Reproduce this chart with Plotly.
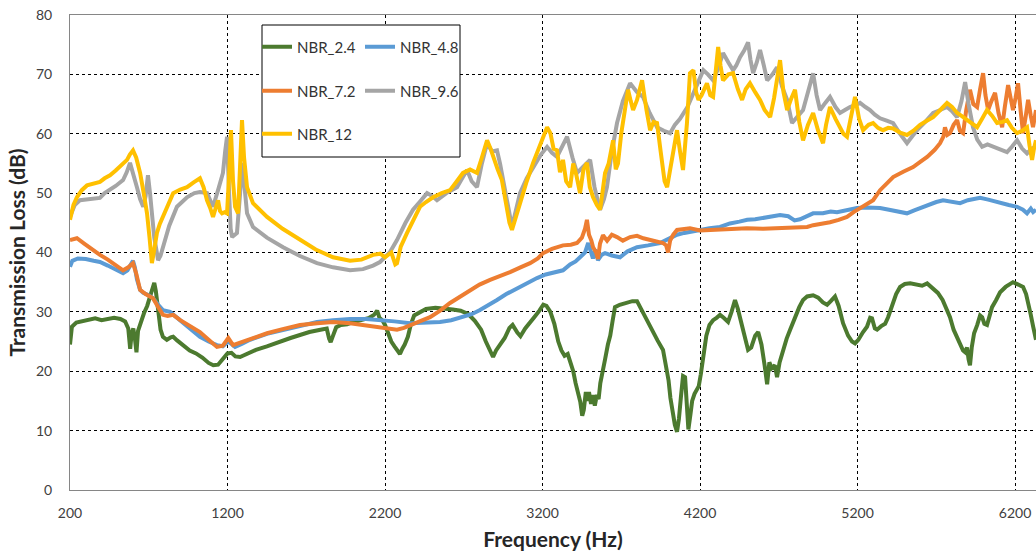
import plotly.graph_objects as go

# ---- NBR_2.4 ----
f_24 = [200, 212, 240, 280, 320, 360, 400, 440, 480, 520, 550, 570, 582, 592, 602, 612, 622, 632, 650, 670,
        690, 710, 725, 735, 745, 760, 775, 790, 815, 840, 855, 880, 920, 960, 1000, 1040, 1080, 1110, 1140, 1170,
        1200, 1225, 1250, 1280, 1320, 1380, 1450, 1520, 1600, 1660, 1720, 1790, 1830, 1845, 1855, 1870, 1890, 1920,
        1960, 2000, 2050, 2100, 2130, 2150, 2165, 2185, 2200, 2220, 2240, 2260, 2280, 2295, 2310, 2325, 2345, 2365,
        2385, 2420, 2460, 2520, 2580, 2630, 2680, 2730, 2770, 2810, 2840, 2865, 2886, 2905, 2930, 2960, 2990, 3010,
        3040, 3060, 3090, 3120, 3150, 3180, 3205, 3225, 3250, 3275, 3300, 3320, 3340, 3360, 3380, 3395, 3410, 3425,
        3440, 3452, 3462, 3475, 3485, 3495, 3508, 3520, 3532, 3545, 3556, 3567, 3582, 3597, 3615, 3630, 3645, 3660,
        3690, 3730, 3770, 3800, 3825, 3851, 3880, 3902, 3930, 3965, 3985, 4000, 4012, 4025, 4040, 4054, 4066, 4078,
        4092, 4105, 4115, 4126, 4138, 4150, 4165, 4180, 4192, 4205, 4220, 4240, 4260, 4283, 4305, 4327, 4350, 4378,
        4400, 4422, 4440, 4467, 4490, 4505, 4525, 4550, 4569, 4590, 4610, 4626, 4640, 4655, 4675, 4689, 4705, 4727,
        4750, 4772, 4800, 4830, 4854, 4880, 4918, 4950, 4980, 5007, 5030, 5057, 5080, 5108, 5140, 5165, 5184, 5205,
        5235, 5260, 5280, 5292, 5310, 5324, 5350, 5375, 5394, 5420, 5445, 5470, 5500, 5534, 5570, 5610, 5642, 5680,
        5710, 5740, 5765, 5787, 5810, 5830, 5851, 5870, 5883, 5895, 5905, 5914, 5925, 5940, 5960, 5978, 5991, 6005,
        6022, 6038, 6054, 6080, 6105, 6140, 6170, 6187, 6220, 6251, 6270, 6285, 6300, 6315, 6333]
tl_24 = [24.5, 27.5, 28.2, 28.4, 28.6, 28.9, 28.6, 28.8, 29.0, 28.8, 28.4, 27.2, 23.8, 26.5, 27.2, 25.5, 23.2, 26.8, 28.4, 29.8,
         31.0, 33.0, 34.2, 34.9, 33.5, 29.5, 27.0, 25.8, 25.3, 25.7, 25.8, 25.2, 24.3, 23.5, 23.0, 22.3, 21.4, 21.0, 21.1, 22.0,
         23.0, 23.1, 22.5, 22.4, 22.9, 23.6, 24.2, 24.9, 25.6, 26.1, 26.6, 27.0, 27.2, 25.5, 24.9, 26.0, 27.4, 27.8,
         27.9, 28.3, 28.6, 29.0, 29.5, 30.2, 29.0, 28.5, 27.8, 26.5, 25.0, 24.2, 23.5, 22.9, 23.8, 24.5, 25.8, 28.0,
         29.4, 30.0, 30.5, 30.7, 30.6, 30.4, 30.2, 29.6, 28.5, 27.0, 25.0, 23.5, 22.4, 23.5, 24.5, 25.6, 27.3, 27.8,
         26.5, 25.9, 27.2, 28.3, 29.2, 30.2, 31.2, 31.0, 30.0, 28.0, 25.0, 23.5, 22.6, 22.9, 21.5, 20.0, 18.0, 16.5,
         14.8, 12.5, 13.5, 16.5, 15.0, 16.5, 14.5, 16.0, 14.2, 16.0, 15.3, 18.0, 20.5, 22.0, 24.5, 26.0, 28.5, 30.8,
         31.2, 31.5, 31.8, 31.8, 30.5, 29.1, 27.5, 26.4, 25.2, 23.6, 21.0, 18.5, 15.5, 13.0, 11.0, 9.8, 12.0, 15.5,
         19.2, 19.0, 14.0, 10.2, 12.5, 15.0, 16.2, 17.0, 17.5, 19.5, 22.5, 26.0, 27.8, 28.6, 29.0, 29.5, 29.0, 28.3,
         30.0, 32.0, 30.5, 27.5, 25.0, 23.6, 24.0, 26.0, 26.6, 24.5, 21.0, 17.8, 21.5, 20.5, 21.0, 19.0, 21.5, 23.6,
         25.5, 27.0, 29.0, 30.8, 32.0, 32.6, 32.8, 32.4, 31.6, 31.2, 31.8, 32.6, 31.0, 28.1, 26.0, 25.0, 24.7, 25.3,
         26.6, 27.5, 29.0, 28.9, 27.2, 27.0, 27.6, 28.0, 29.1, 31.0, 33.0, 34.2, 34.7, 34.8, 34.6, 34.4, 34.8, 34.0,
         33.2, 32.0, 30.5, 29.1, 27.0, 25.8, 24.7, 23.5, 23.2, 24.0, 22.0, 21.0, 24.0, 26.4, 27.8, 29.4, 29.1, 28.0,
         27.8, 29.5, 30.8, 32.0, 33.3, 34.2, 34.8, 35.0, 34.6, 34.2, 33.0, 31.5, 29.5, 27.5, 25.3]

# ---- NBR_4.8 ----
f_48 = [200, 215, 250, 300, 350, 390, 440, 490, 537, 565, 585, 600, 612, 625, 645, 665, 700, 727, 760, 790,
        835, 870, 917, 970, 1025, 1080, 1133, 1170, 1205, 1225, 1248, 1290, 1343, 1450, 1553, 1660, 1768, 1870, 1978, 2080,
        2187, 2260, 2359, 2450, 2549, 2620, 2695, 2750, 2803, 2860, 2911, 2970, 3038, 3100, 3165, 3220, 3270, 3330, 3375, 3410,
        3438, 3470, 3490, 3502, 3520, 3535, 3552, 3575, 3597, 3640, 3692, 3740, 3800, 3870, 3946, 4000, 4054, 4100, 4150, 4200,
        4260, 4327, 4390, 4450, 4500, 4550, 4600, 4650, 4708, 4760, 4800, 4835, 4880, 4918, 4980, 5030, 5070, 5130, 5197, 5260,
        5343, 5400, 5460, 5514, 5560, 5597, 5650, 5700, 5743, 5800, 5851, 5900, 5950, 5978, 6030, 6105, 6160, 6213, 6250, 6276,
        6300, 6315, 6333]
tl_48 = [37.6, 38.6, 39.0, 38.9, 38.6, 38.4, 37.8, 37.2, 36.5, 37.0, 37.8, 38.6, 37.5, 35.5, 33.7, 33.2, 32.8, 32.3, 31.2, 30.3,
         30.0, 29.2, 28.3, 27.0, 25.8, 25.0, 24.4, 24.2, 25.0, 24.6, 24.1, 24.6, 25.3, 26.3, 27.0, 27.7, 28.3, 28.6, 28.8, 28.8,
         28.6, 28.4, 28.1, 28.2, 28.3, 28.6, 29.1, 29.6, 30.3, 31.1, 32.0, 33.0, 34.0, 34.9, 35.7, 36.3, 36.6, 37.0, 38.0, 38.5,
         39.2, 40.0, 41.6, 40.5, 39.0, 40.5, 38.7, 39.6, 39.9, 39.5, 39.2, 40.2, 40.9, 41.2, 41.6, 42.3, 43.0, 43.3, 43.6, 43.8,
         44.1, 44.3, 44.9, 45.2, 45.5, 45.6, 45.8, 46.0, 46.3, 46.1, 45.4, 45.6, 46.2, 46.6, 46.6, 46.9, 46.8, 47.2, 47.5, 47.6,
         47.5, 47.2, 46.9, 46.6, 47.1, 47.5, 48.0, 48.5, 48.8, 48.5, 48.3, 48.8, 49.0, 49.2, 48.9, 48.3, 48.0, 47.7, 47.2, 46.6,
         47.4, 46.8, 47.2]

# ---- NBR_7.2 ----
f_72 = [200, 244, 290, 340, 390, 440, 490, 537, 570, 600, 620, 645, 680, 727, 760, 790, 820, 855, 900, 960,
        1025, 1080, 1133, 1170, 1205, 1235, 1300, 1370, 1451, 1550, 1660, 1770, 1870, 1978, 2060, 2150, 2230, 2276, 2320, 2359,
        2420, 2486, 2550, 2613, 2680, 2740, 2800, 2867, 2930, 2994, 3060, 3121, 3170, 3203, 3260, 3330, 3380, 3419, 3450, 3470,
        3482, 3495, 3510, 3521, 3540, 3552, 3565, 3584, 3610, 3640, 3673, 3710, 3756, 3800, 3840, 3883, 3930, 3965, 3985, 3997,
        4010, 4030, 4054, 4100, 4136, 4200, 4260, 4330, 4400, 4498, 4600, 4708, 4780, 4835, 4880, 4918, 4970, 5025, 5080, 5133,
        5175, 5216, 5260, 5299, 5343, 5385, 5426, 5490, 5553, 5600, 5642, 5690, 5724, 5745, 5755, 5770, 5787, 5810, 5832, 5850,
        5870, 5890, 5914, 5935, 5959, 5978, 5997, 6012, 6029, 6050, 6073, 6095, 6118, 6135, 6156, 6172, 6187, 6203, 6219, 6235,
        6251, 6268, 6283, 6300, 6314, 6333]
tl_72 = [42.1, 42.4, 41.5, 40.5, 39.6, 38.8, 37.8, 37.0, 37.5, 38.2, 36.5, 33.7, 33.0, 32.3, 30.8, 29.5, 29.3, 29.5, 28.6, 27.6,
         26.6, 25.3, 24.1, 24.3, 25.6, 24.4, 25.0, 25.7, 26.4, 27.1, 27.8, 28.1, 28.3, 28.1, 27.8, 27.4, 27.1, 27.0, 27.3, 27.8,
         28.4, 29.1, 30.2, 31.5, 32.6, 33.7, 34.6, 35.4, 36.0, 36.7, 37.5, 38.2, 39.0, 39.9, 40.6, 41.2, 41.3, 41.6, 42.5, 44.0,
         45.5, 43.0, 42.0, 40.9, 40.0, 38.9, 41.5, 42.9, 42.0, 43.0, 42.6, 42.0, 42.6, 42.8, 42.4, 42.1, 41.9, 41.6, 41.2, 40.0,
         42.0, 43.0, 43.8, 44.0, 44.1, 43.7, 43.8, 43.9, 44.0, 44.1, 44.0, 44.1, 44.2, 44.1, 44.3, 44.6, 44.8, 45.1, 45.5, 46.0,
         46.8, 47.5, 48.1, 48.8, 50.5, 51.6, 52.7, 53.6, 54.4, 55.3, 56.1, 57.3, 58.4, 59.5, 61.1, 59.8, 60.1, 61.5, 62.3, 60.5,
         60.1, 64.0, 67.4, 65.0, 64.5, 67.5, 70.2, 66.5, 64.0, 65.5, 66.9, 63.5, 61.1, 64.5, 68.2, 66.0, 64.0, 66.0, 68.5, 64.0,
         60.1, 63.0, 65.7, 63.0, 61.1, 64.0]

# ---- NBR_9.6 ----
f_96 = [200, 230, 263, 320, 390, 420, 454, 490, 537, 560, 581, 600, 625, 645, 665, 680, 695, 708, 720, 735,
        752, 759, 775, 790, 830, 879, 943, 990, 1025, 1070, 1108, 1140, 1171, 1185, 1197, 1210, 1220, 1229, 1260, 1280,
        1292, 1310, 1324, 1362, 1450, 1553, 1660, 1768, 1870, 1978, 2060, 2124, 2168, 2230, 2276, 2330, 2378, 2420, 2467, 2500,
        2530, 2590, 2657, 2690, 2721, 2750, 2784, 2815, 2848, 2880, 2911, 2930, 2949, 2975, 3006, 3030, 3057, 3100, 3140, 3190,
        3229, 3260, 3292, 3325, 3356, 3390, 3419, 3460, 3502, 3530, 3565, 3590, 3609, 3640, 3673, 3710, 3756, 3800, 3838, 3880,
        3927, 3970, 4010, 4040, 4073, 4120, 4158, 4190, 4221, 4250, 4283, 4315, 4346, 4380, 4410, 4430, 4454, 4480, 4505, 4520,
        4537, 4560, 4581, 4605, 4626, 4660, 4689, 4720, 4753, 4784, 4820, 4854, 4885, 4918, 4940, 4962, 4995, 5025, 5060, 5089,
        5120, 5152, 5185, 5216, 5250, 5279, 5310, 5343, 5385, 5426, 5470, 5514, 5545, 5578, 5630, 5680, 5725, 5768, 5800, 5832,
        5860, 5883, 5905, 5933, 5960, 5991, 6025, 6060, 6100, 6149, 6180, 6213, 6245, 6276, 6305, 6333]
tl_96 = [46.0, 48.0, 48.8, 49.0, 49.2, 50.0, 50.5, 51.2, 52.2, 53.5, 55.1, 53.5, 51.0, 49.0, 47.7, 49.5, 53.0, 50.0, 46.6, 42.5,
         39.9, 38.7, 39.5, 40.9, 44.5, 47.7, 49.3, 50.0, 50.2, 50.0, 47.7, 50.5, 53.4, 57.0, 59.5, 50.0, 44.0, 42.6, 43.3, 50.0,
         55.1, 50.5, 46.6, 44.3, 42.5, 40.9, 39.4, 38.2, 37.5, 37.0, 37.2, 37.8, 38.4, 40.0, 42.1, 45.0, 47.2, 48.5, 50.0, 49.5,
         48.8, 50.0, 51.0, 52.5, 53.9, 52.0, 51.0, 55.0, 58.4, 57.0, 57.2, 55.0, 52.2, 48.0, 44.3, 47.0, 50.0, 52.5, 54.4, 56.5,
         57.8, 56.8, 56.1, 58.0, 59.5, 56.0, 53.4, 54.5, 55.6, 51.0, 47.2, 49.0, 51.0, 57.0, 61.8, 65.5, 68.5, 67.0, 66.2, 63.5,
         61.1, 60.5, 60.1, 61.5, 62.5, 64.5, 66.9, 68.5, 70.7, 70.0, 69.0, 71.0, 73.6, 72.0, 70.7, 71.5, 72.9, 74.0, 75.4, 72.5,
         70.2, 72.0, 74.1, 71.5, 69.0, 70.0, 71.2, 68.0, 65.7, 61.8, 63.0, 64.0, 67.0, 70.2, 66.5, 64.0, 65.2, 66.2, 64.5, 63.5,
         64.0, 64.5, 64.8, 65.2, 64.5, 64.0, 63.2, 62.6, 62.2, 61.8, 60.0, 58.4, 59.5, 60.6, 62.0, 63.5, 64.0, 64.5, 63.8, 62.8,
         65.5, 68.7, 65.0, 61.1, 59.0, 57.8, 58.2, 57.8, 57.5, 56.9, 57.8, 58.9, 57.5, 56.7, 57.5, 57.8]

# ---- NBR_12 ----
f_12 = [200, 222, 244, 275, 308, 350, 390, 420, 454, 490, 517, 540, 562, 580, 600, 620, 645, 668, 689, 705,
        720, 735, 752, 770, 790, 820, 855, 900, 943, 985, 1025, 1048, 1070, 1090, 1108, 1125, 1140, 1152, 1165, 1182,
        1197, 1210, 1222, 1235, 1248, 1267, 1280, 1292, 1305, 1324, 1362, 1400, 1451, 1550, 1660, 1760, 1870, 1978, 2050, 2124,
        2170, 2200, 2240, 2265, 2276, 2300, 2340, 2380, 2422, 2460, 2505, 2560, 2613, 2650, 2695, 2740, 2784, 2815, 2848, 2870,
        2886, 2915, 2942, 2970, 2990, 3006, 3030, 3057, 3100, 3140, 3185, 3229, 3250, 3270, 3292, 3311, 3330, 3350, 3375, 3395,
        3415, 3438, 3460, 3482, 3500, 3521, 3545, 3565, 3580, 3597, 3620, 3648, 3665, 3679, 3700, 3720, 3743, 3760, 3775, 3800,
        3832, 3860, 3883, 3905, 3927, 3950, 3975, 3991, 4015, 4035, 4054, 4073, 4092, 4117, 4136, 4158, 4175, 4190, 4210, 4244,
        4265, 4283, 4300, 4315, 4330, 4346, 4380, 4410, 4440, 4467, 4490, 4517, 4550, 4581, 4610, 4645, 4670, 4690, 4708, 4730,
        4753, 4780, 4803, 4830, 4854, 4885, 4918, 4950, 4981, 5000, 5025, 5060, 5089, 5110, 5133, 5160, 5184, 5210, 5235, 5270,
        5299, 5330, 5362, 5395, 5426, 5470, 5514, 5555, 5597, 5640, 5680, 5725, 5768, 5800, 5832, 5860, 5895, 5930, 5959, 5990,
        6022, 6055, 6086, 6120, 6149, 6180, 6213, 6245, 6276, 6292, 6308, 6320, 6333]
tl_12 = [45.5, 48.0, 49.3, 50.5, 51.3, 51.6, 51.9, 52.5, 53.0, 53.8, 54.4, 55.0, 55.6, 56.5, 57.2, 56.0, 53.4, 50.0, 46.6, 42.5,
         38.2, 40.5, 43.3, 44.8, 46.0, 48.0, 50.0, 50.6, 51.0, 51.8, 52.5, 51.0, 48.8, 47.5, 46.0, 47.5, 48.8, 47.0, 46.6, 46.8,
         46.6, 53.0, 60.6, 52.0, 47.7, 46.6, 55.0, 62.3, 56.0, 51.0, 48.3, 47.3, 46.0, 44.0, 42.1, 40.5, 39.2, 38.6, 38.8, 39.6,
         39.8, 39.2, 40.0, 38.0, 38.2, 41.0, 43.3, 45.5, 47.7, 48.5, 49.3, 50.0, 50.5, 51.8, 53.4, 54.0, 53.4, 56.0, 58.9, 57.5,
         56.1, 54.0, 52.2, 48.0, 45.0, 43.8, 46.0, 48.3, 52.0, 55.1, 58.0, 61.1, 60.1, 57.5, 57.2, 53.5, 55.6, 52.0, 51.0, 55.0,
         53.0, 50.0, 54.0, 55.1, 51.0, 49.3, 48.0, 47.2, 50.0, 53.4, 55.0, 58.9, 54.0, 55.0, 60.1, 64.0, 67.4, 65.5, 64.0, 65.7,
         69.0, 64.0, 60.6, 62.0, 61.8, 57.0, 52.0, 51.0, 55.0, 58.0, 60.6, 57.0, 53.9, 61.8, 70.2, 70.7, 67.0, 65.7, 66.5, 68.5,
         66.5, 66.2, 70.0, 74.6, 71.5, 69.0, 70.0, 70.2, 67.5, 65.7, 67.5, 68.5, 67.0, 65.7, 64.0, 62.8, 66.0, 70.0, 72.4, 67.0,
         64.0, 66.0, 67.4, 62.0, 58.9, 61.5, 63.5, 60.5, 58.4, 61.5, 64.5, 62.5, 61.1, 60.0, 59.5, 63.0, 66.2, 62.5, 60.6, 61.5,
         61.8, 61.0, 60.6, 61.0, 60.9, 60.2, 59.8, 60.5, 61.5, 62.2, 62.8, 64.0, 65.2, 64.5, 63.5, 63.0, 62.3, 61.5, 61.1, 62.5,
         64.0, 63.0, 61.8, 62.0, 62.3, 61.0, 60.1, 60.5, 61.1, 58.0, 55.6, 57.5, 58.9]

series = [
    ("NBR_2.4", f_24, tl_24, "#4C7A2F", "legend"),
    ("NBR_4.8", f_48, tl_48, "#5B9BD5", "legend"),
    ("NBR_7.2", f_72, tl_72, "#ED7D31", "legend2"),
    ("NBR_9.6", f_96, tl_96, "#A5A5A5", "legend2"),
    ("NBR_12", f_12, tl_12, "#FFC000", "legend3"),
]

x_ticks = [200, 1200, 2200, 3200, 4200, 5200, 6200]
y_ticks = [0, 10, 20, 30, 40, 50, 60, 70, 80]

FONT = "Lato, 'Open Sans', sans-serif"

fig = go.Figure()
for name, fx, fy, color, leg in series:
    fig.add_trace(go.Scatter(x=fx, y=fy, mode="lines", name=name,
                             line=dict(color=color, width=4), legend=leg))

# plot-area pixel geometry: left 70, right 1036, top 15, bottom 490
PW, PH = 966, 475
def px_x(p):
    return (p - 70) / PW
def px_y(p):
    return (490 - p) / PH

leg_common = dict(orientation="h", xanchor="left", yanchor="middle",
                  bgcolor="rgba(0,0,0,0)", borderwidth=0,
                  entrywidth=58, entrywidthmode="pixels",
                  font=dict(family=FONT, size=15, color="#333333"),
                  tracegroupgap=0, itemwidth=30)

fig.update_layout(
    width=1036, height=558,
    margin=dict(l=70, r=0, t=15, b=68),
    paper_bgcolor="white", plot_bgcolor="white",
    font=dict(family=FONT, size=14, color="#595959"),
    legend=dict(x=px_x(257), y=px_y(47), **leg_common),
    legend2=dict(x=px_x(257), y=px_y(91), **leg_common),
    legend3=dict(x=px_x(257), y=px_y(134), **leg_common),
    xaxis=dict(range=[200, 6333], tickvals=x_ticks, ticktext=[str(v) for v in x_ticks],
               showgrid=True, gridcolor="black", gridwidth=1, griddash="3px,3px",
               showline=True, linecolor="#868686", linewidth=1, mirror=True,
               zeroline=False, ticks="", ticklabelstandoff=10,
               tickfont=dict(family=FONT, size=14, color="#404040"),
               title=dict(text="<b>Frequency (Hz)</b>", standoff=12,
                          font=dict(family=FONT, size=21, color="#262626"))),
    yaxis=dict(range=[0, 80], tickvals=y_ticks,
               showgrid=True, gridcolor="black", gridwidth=1, griddash="3px,3px",
               showline=True, linecolor="#868686", linewidth=1,
               zeroline=False, ticks="", ticklabelstandoff=14,
               tickfont=dict(family=FONT, size=14, color="#404040"),
               title=dict(text="<b>Transmission Loss (dB)</b>", standoff=4,
                          font=dict(family=FONT, size=21, color="#262626"))),
    shapes=[dict(type="rect", xref="paper", yref="paper",
                 x0=px_x(262), x1=px_x(460), y0=px_y(157), y1=px_y(25),
                 fillcolor="white", line=dict(color="black", width=1), layer="above")],
)

fig.write_html("out.html")
